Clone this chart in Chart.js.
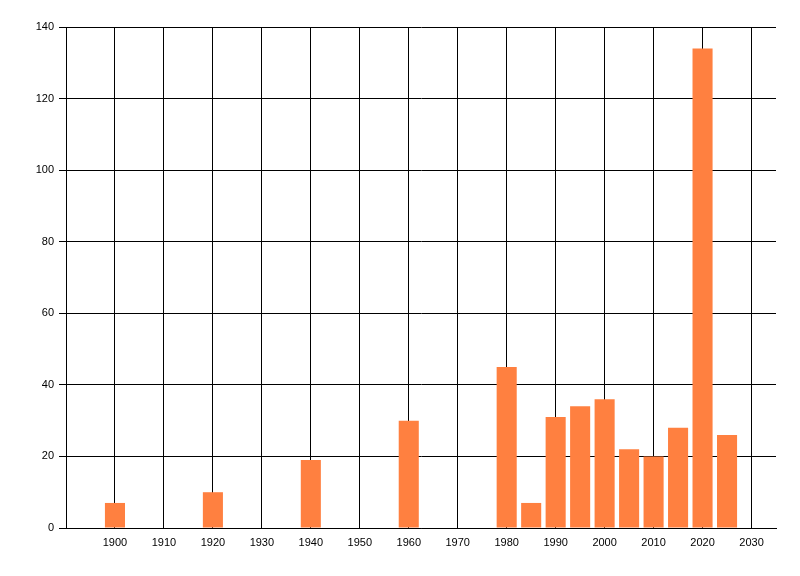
<!DOCTYPE html>
<html>
<head>
<meta charset="utf-8">
<script src="https://cdn.jsdelivr.net/npm/chart.js@4/dist/chart.umd.min.js"></script>
<style>
    html, body { margin: 0; padding: 0; background: #fff; }
    canvas { display: block; }
</style>
</head>
<body>
<canvas id="yearChart" width="800" height="576"></canvas>
<script>
// Years and counts
const years  = [1900, 1920, 1940, 1960, 1980, 1985, 1990, 1995, 2000, 2005, 2010, 2015, 2020, 2025];
const counts = [7, 10, 19, 30, 45, 7, 31, 34, 36, 22, 20, 28, 134, 26];

// Axis tick labels
const xTicks = [1900, 1910, 1920, 1930, 1940, 1950, 1960, 1970, 1980, 1990, 2000, 2010, 2020, 2030];
const yTicks = [0, 20, 40, 60, 80, 100, 120, 140];

const points = years.map((yr, i) => ({ x: yr, y: counts[i] }));

const tickFont = { family: 'Liberation Sans, Arial, sans-serif', size: 11 };

new Chart(document.getElementById('yearChart').getContext('2d'), {
    type: 'bar',
    data: {
        datasets: [{
            data               : points,
            backgroundColor    : '#ff8040',
            borderWidth        : 0,
            categoryPercentage : 1,
            barPercentage      : 0.82,
        }],
    },
    options: {
        responsive       : false,
        devicePixelRatio : 1,
        animation        : false,
        layout  : { padding: { left: 0, top: 27, right: 24, bottom: 0 } },
        plugins : { legend: { display: false }, tooltip: { enabled: false } },
        scales  : {
            x: {
                type   : 'linear',
                min    : 1890,
                max    : 2035,
                offset : false,
                afterBuildTicks : s => { s.ticks = xTicks.map(v => ({ value: v })); },
                afterFit        : s => { s.height = 48; },
                grid   : { color: '#000', lineWidth: 1, drawTicks: false, offset: false },
                border : { color: '#000', width: 1 },
                ticks  : { color: '#000', font: tickFont, padding: 8, maxRotation: 0, callback: v => String(v) },
            },
            y: {
                min : 0,
                max : 140,
                afterBuildTicks : s => { s.ticks = yTicks.map(v => ({ value: v })); },
                afterFit        : s => { s.width = 66; },
                grid   : { color: '#000', lineWidth: 1, tickLength: 7, tickColor: '#000' },
                border : { color: '#000', width: 1 },
                ticks  : { color: '#000', font: tickFont, padding: 5 },
            },
        },
    },
});
</script>
</body>
</html>
